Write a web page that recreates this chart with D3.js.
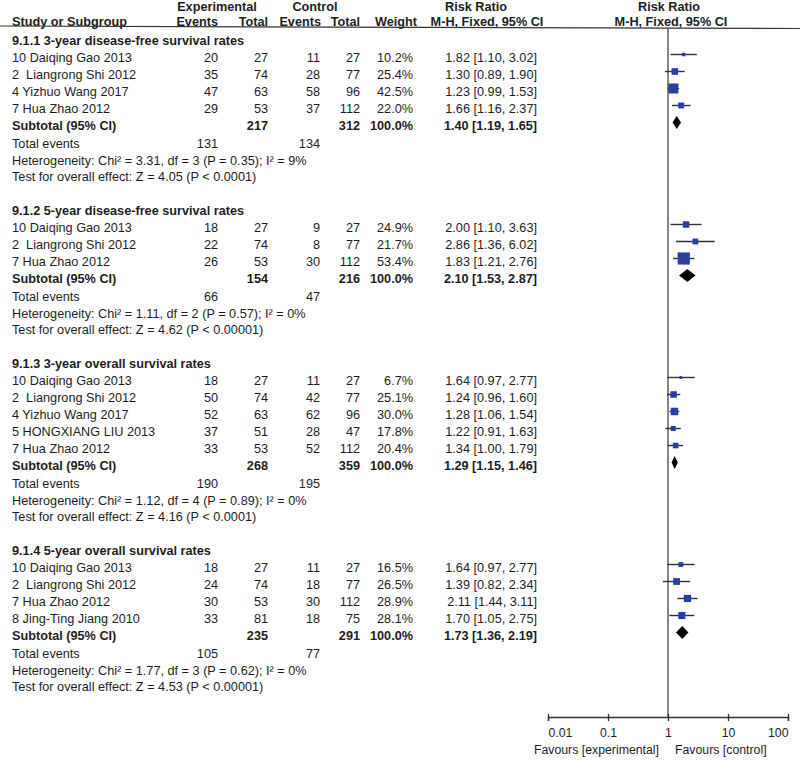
<!DOCTYPE html>
<html>
<head>
<meta charset="utf-8">
<script src="https://cdn.jsdelivr.net/npm/d3@7"></script>
<style>
  html, body { margin: 0; padding: 0; background: #fff; }
  svg { display: block; }
  text { font-family: "Liberation Sans", Arial, Helvetica, sans-serif; font-size: 12.7px; fill: #1e1e1e; white-space: pre; }
  .b { font-weight: bold; }
  .sm { font-size: 12.3px; }
</style>
</head>
<body>
<svg id="chart" width="800" height="762"></svg>
<script>
// ---------- data ----------
const groupTitles = [
  "9.1.1 3-year disease-free survival rates",
  "9.1.2 5-year disease-free survival rates",
  "9.1.3 3-year overall survival rates",
  "9.1.4 5-year overall survival rates"
];
const studyNames = [
  ["10 Daiqing Gao 2013", "2  Liangrong Shi 2012", "4 Yizhuo Wang 2017", "7 Hua Zhao 2012"],
  ["10 Daiqing Gao 2013", "2  Liangrong Shi 2012", "7 Hua Zhao 2012"],
  ["10 Daiqing Gao 2013", "2  Liangrong Shi 2012", "4 Yizhuo Wang 2017", "5 HONGXIANG LIU 2013", "7 Hua Zhao 2012"],
  ["10 Daiqing Gao 2013", "2  Liangrong Shi 2012", "7 Hua Zhao 2012", "8 Jing-Ting Jiang 2010"]
];
const expEvents  = [[20, 35, 47, 29], [18, 22, 26], [18, 50, 52, 37, 33], [18, 24, 30, 33]];
const expTotals  = [[27, 74, 63, 53], [27, 74, 53], [27, 74, 63, 51, 53], [27, 74, 53, 81]];
const ctrlEvents = [[11, 28, 58, 37], [9, 8, 30], [11, 42, 62, 28, 52], [11, 18, 30, 18]];
const ctrlTotals = [[27, 77, 96, 112], [27, 77, 112], [27, 77, 96, 47, 112], [27, 77, 112, 75]];
const weights    = [[10.2, 25.4, 42.5, 22.0], [24.9, 21.7, 53.4], [6.7, 25.1, 30.0, 17.8, 20.4], [16.5, 26.5, 28.9, 28.1]];
const riskRatio  = [[1.82, 1.30, 1.23, 1.66], [2.00, 2.86, 1.83], [1.64, 1.24, 1.28, 1.22, 1.34], [1.64, 1.39, 2.11, 1.70]];
const ciLow      = [[1.10, 0.89, 0.99, 1.16], [1.10, 1.36, 1.21], [0.97, 0.96, 1.06, 0.91, 1.00], [0.97, 0.82, 1.44, 1.05]];
const ciHigh     = [[3.02, 1.90, 1.53, 2.37], [3.63, 6.02, 2.76], [2.77, 1.60, 1.54, 1.63, 1.79], [2.77, 2.34, 3.11, 2.75]];

const subExpTotal  = [217, 154, 268, 235];
const subCtrlTotal = [312, 216, 359, 291];
const subRR   = [1.40, 2.10, 1.29, 1.73];
const subLow  = [1.19, 1.53, 1.15, 1.36];
const subHigh = [1.65, 2.87, 1.46, 2.19];
const totalExpEvents  = [131, 66, 190, 105];
const totalCtrlEvents = [134, 47, 195, 77];
const heterogeneity = [
  "Heterogeneity: Chi\u00B2 = 3.31, df = 3 (P = 0.35); I\u00B2 = 9%",
  "Heterogeneity: Chi\u00B2 = 1.11, df = 2 (P = 0.57); I\u00B2 = 0%",
  "Heterogeneity: Chi\u00B2 = 1.12, df = 4 (P = 0.89); I\u00B2 = 0%",
  "Heterogeneity: Chi\u00B2 = 1.77, df = 3 (P = 0.62); I\u00B2 = 0%"
];
const overallEffect = [
  "Test for overall effect: Z = 4.05 (P < 0.0001)",
  "Test for overall effect: Z = 4.62 (P < 0.00001)",
  "Test for overall effect: Z = 4.16 (P < 0.0001)",
  "Test for overall effect: Z = 4.53 (P < 0.00001)"
];
const tickValues = [0.01, 0.1, 1, 10, 100];
const tickLabels = ["0.01", "0.1", "1", "10", "100"];

// ---------- layout ----------
const svg = d3.select("#chart");
const col = { name: 12, ee: 218, et: 268, ce: 320, ct: 360, w: 413, rr: 537 };
const axisY = 717;
const x = d3.scaleLog().domain([0.01, 100]).range([548, 788]);
const boxSide = d3.scaleLinear().domain([0, 100]).range([1.5, 21.5]);
const fmt2 = d3.format(".2f");
const fmtW = d3.format(".1f");
const ciText = (r, l, h) => `${fmt2(r)} [${fmt2(l)}, ${fmt2(h)}]`;

function txt(g, xx, yc, s, anchor, bold) {
  g.append("text")
    .attr("x", xx).attr("y", yc + 3.8)
    .attr("text-anchor", anchor || "start")
    .attr("class", bold ? "b" : null)
    .attr("xml:space", "preserve")
    .text(s);
}

// header
const hdr = svg.append("g");
[["Experimental", 217, "middle"], ["Control", 315, "middle"], ["Risk Ratio", 476, "middle"], ["Risk Ratio", 669, "middle"]]
  .forEach(d => hdr.append("text").attr("class", "b").attr("x", d[1]).attr("y", 10.5).attr("text-anchor", d[2]).text(d[0]));
[["Study or Subgroup", col.name, "start"], ["Events", col.ee, "end"], ["Total", col.et, "end"],
 ["Events", col.ce + 1, "end"], ["Total", col.ct, "end"], ["Weight", col.w + 4, "end"],
 ["M-H, Fixed, 95% CI", 487, "middle"], ["M-H, Fixed, 95% CI", 671, "middle"]]
  .forEach(d => hdr.append("text").attr("class", "b").attr("x", d[1]).attr("y", 25.5).attr("text-anchor", d[2]).text(d[0]));
svg.append("line").attr("x1", 0).attr("x2", 800).attr("y1", 26).attr("y2", 28.5)
  .attr("stroke", "#333").attr("stroke-width", 1.2);

// vertical line of no effect
svg.append("line").attr("x1", x(1)).attr("x2", x(1)).attr("y1", 28).attr("y2", axisY)
  .attr("stroke", "#444").attr("stroke-width", 1.3);

// groups
const body = svg.append("g");
let y = 41;
groupTitles.forEach((title, gi) => {
  const g = body.append("g");
  txt(g, col.name, y, title, "start", true);
  y += 17;
  studyNames[gi].forEach((nm, si) => {
    txt(g, col.name, y, nm);
    txt(g, col.ee, y, expEvents[gi][si], "end");
    txt(g, col.et, y, expTotals[gi][si], "end");
    txt(g, col.ce, y, ctrlEvents[gi][si], "end");
    txt(g, col.ct, y, ctrlTotals[gi][si], "end");
    txt(g, col.w, y, fmtW(weights[gi][si]) + "%", "end");
    txt(g, col.rr, y, ciText(riskRatio[gi][si], ciLow[gi][si], ciHigh[gi][si]), "end");
    const my = y - 3.5;
    g.append("line")
      .attr("x1", x(ciLow[gi][si])).attr("x2", x(ciHigh[gi][si]))
      .attr("y1", my).attr("y2", my)
      .attr("stroke", "#333").attr("stroke-width", 1.4);
    const s = boxSide(weights[gi][si]);
    g.append("rect")
      .attr("x", x(riskRatio[gi][si]) - s / 2).attr("y", my - s / 2)
      .attr("width", s).attr("height", s)
      .attr("fill", "#2c3f9f");
    y += 17;
  });
  // subtotal
  txt(g, col.name, y, "Subtotal (95% CI)", "start", true);
  txt(g, col.et, y, subExpTotal[gi], "end", true);
  txt(g, col.ct, y, subCtrlTotal[gi], "end", true);
  txt(g, col.w, y, "100.0%", "end", true);
  txt(g, col.rr, y, ciText(subRR[gi], subLow[gi], subHigh[gi]), "end", true);
  const dy = y - 3.5;
  g.append("path")
    .attr("d", `M${x(subLow[gi])},${dy} L${x(subRR[gi])},${dy - 6.5} L${x(subHigh[gi])},${dy} L${x(subRR[gi])},${dy + 6.5} Z`)
    .attr("fill", "#000");
  y += 18;
  txt(g, col.name, y, "Total events");
  txt(g, col.ee, y, totalExpEvents[gi], "end");
  txt(g, col.ce, y, totalCtrlEvents[gi], "end");
  y += 17;
  txt(g, col.name, y, heterogeneity[gi]);
  y += 16.5;
  txt(g, col.name, y, overallEffect[gi]);
  y += 33.5;
});

// axis
const axis = d3.axisBottom(x).tickValues(tickValues)
  .tickFormat((d, i) => tickLabels[i]).tickSizeOuter(0).tickSize(4);
const ag = svg.append("g").attr("transform", `translate(0,${axisY})`).call(axis);
ag.select(".domain").attr("stroke", "#333").attr("stroke-width", 1.3);
ag.selectAll(".tick line").attr("y1", -3).attr("y2", 4).attr("stroke", "#333").attr("stroke-width", 1.3);
ag.selectAll(".tick text").attr("y", 20).attr("dy", 0)
  .attr("text-anchor", (d, i) => i === 0 ? "start" : (i === tickValues.length - 1 ? "end" : "middle"))
  .style("font-family", "'Liberation Sans', Arial, sans-serif").style("font-size", "12.3px").attr("fill", "#1e1e1e");

svg.append("text").attr("class", "sm").attr("x", 659).attr("y", 754).attr("text-anchor", "end").text("Favours [experimental]");
svg.append("text").attr("class", "sm").attr("x", 675).attr("y", 754).attr("text-anchor", "start").text("Favours [control]");
</script>
</body>
</html>
